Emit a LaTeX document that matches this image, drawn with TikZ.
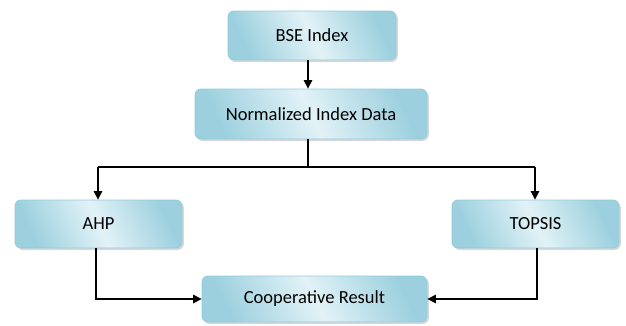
\documentclass[tikz,border=0pt]{standalone}
\usepackage{fontspec}
\setmainfont{Carlito}
\usetikzlibrary{arrows.meta,shadows}
\definecolor{boxedge}{HTML}{93CBD9}
\definecolor{boxdark}{HTML}{9CD0DE}
\definecolor{boxlight}{HTML}{E2F2F7}
\tikzset{
  box/.style={rounded corners=6pt, draw=boxedge, line width=0.8pt,
    left color=boxdark, right color=boxdark, middle color=boxlight, shading angle=115,
    drop shadow={shadow xshift=1.8pt, shadow yshift=-2pt, fill=black!30},
    inner sep=0pt, font=\fontsize{18.5}{21}\selectfont},
  conn/.style={line width=1.2pt, draw=black},
  arr/.style={conn, -{Triangle[length=8.5pt,width=8.5pt]}}
}
\begin{document}
\begin{tikzpicture}[x=1pt,y=-1pt]
\useasboundingbox (0,0) rectangle (626,325);
\node[box, minimum width=168pt, minimum height=49pt] (bse) at (312,35.5) {BSE Index};
\node[box, minimum width=232pt, minimum height=50pt] (norm) at (311,114) {Normalized Index Data};
\node[box, minimum width=167pt, minimum height=48pt] (ahp) at (98.5,224) {AHP};
\node[box, minimum width=167pt, minimum height=48pt] (topsis) at (535.5,224) {TOPSIS};
\node[box, minimum width=225pt, minimum height=46pt] (coop) at (314.5,299) {Cooperative Result};
\coordinate (s1) at (308,0);
\coordinate (split) at (308,167);
\coordinate (la) at (98,167);
\coordinate (ra) at (535,167);
\coordinate (ahpout) at (96,0);
\coordinate (topout) at (537,0);
\draw[arr] (bse.south -| s1) -- (norm.north -| s1);
\draw[conn] (norm.south -| s1) -- (split);
\draw[arr] (la) -| (ahp.north -| la) ;
\draw[conn] (la) -- (ra);
\draw[arr] (ra) -- (topsis.north -| ra);
\draw[arr] (ahp.south -| ahpout) |- (coop.west);
\draw[arr] (topsis.south -| topout) |- (coop.east);
\end{tikzpicture}
\end{document}
